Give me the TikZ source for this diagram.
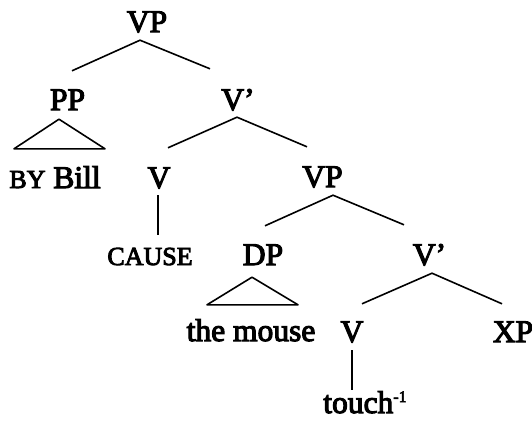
\documentclass[tikz,border=0pt]{standalone}
\usepackage{fontspec}
\setmainfont{Liberation Serif}[FakeBold=3.5]
\newcommand\smcap[1]{{\fontsize{26}{30}\selectfont #1}}
\tikzset{
  cat/.style={anchor=base, inner sep=0pt, text height=21pt, text depth=0pt,
    font=\fontsize{31.5}{36}\selectfont},
  edge/.style={line width=1.6pt, line join=round},
}
\begin{document}
\begin{tikzpicture}[x=1pt, y=-1pt]
  \useasboundingbox (0,0) rectangle (532,421);
  % labels, top to bottom
  \node[cat] (vp)     at (147,32)    {VP};
  \node[cat] (pp)     at (67.5,110)  {PP};
  \node[cat] (vbar)   at (238,110)   {V'};
  \node[cat] (bybill) at (55,188)    {\smcap{BY} Bill};
  \node[cat] (v)      at (159,188)   {V};
  \node[cat] (vpb)    at (322.5,187) {VP};
  \node[cat] (cause)  at (150,265)   {\smcap{CAUSE}};
  \node[cat] (dp)     at (263,265)   {DP};
  \node[cat] (vbarb)  at (429.5,265) {V'};
  \node[cat] (mouse)  at (251,341)   {the mouse};
  \node[cat] (vb)     at (352,342)   {V};
  \node[cat] (xp)     at (513,342)   {XP};
  \node[cat] (touch)  at (365,413)   {touch\raisebox{11pt}{\fontsize{16}{16}\selectfont -1}};

  % branches
  \draw[edge] ([shift={(4.5,-18)}]pp.north) -- ([shift={(-7,8)}]vp.south) -- ([shift={(-28,-20)}]vbar.north);
  \draw[edge] ([shift={(9,-19)}]v.north) -- ([shift={(-1,7)}]vbar.south) -- ([shift={(-15.5,-19)}]vpb.north);
  \draw[edge] ([shift={(2,-18)}]dp.north) -- ([shift={(10.5,8)}]vpb.south) -- ([shift={(-25.5,-19)}]vbarb.north);
  \draw[edge] ([shift={(10,-17)}]vb.north) -- ([shift={(2.5,8)}]vbarb.south) -- ([shift={(-11,-17)}]xp.north);
  \draw[edge] ([shift={(-1,7)}]v.south) -- ([shift={(8,-9)}]cause.north);
  \draw[edge] ([shift={(0,8)}]vb.south) -- ([shift={(-13,-2)}]touch.north);

  % triangles
  \draw[edge] ([shift={(-8.5,9)}]pp.south) -- ([shift={(-41,-18)}]bybill.north)
    -- ([shift={(50,-18)}]bybill.north) -- cycle;
  \draw[edge] ([shift={(-11,12)}]dp.south) -- ([shift={(-44,-15)}]mouse.north)
    -- ([shift={(47,-15)}]mouse.north) -- cycle;
\end{tikzpicture}
\end{document}
